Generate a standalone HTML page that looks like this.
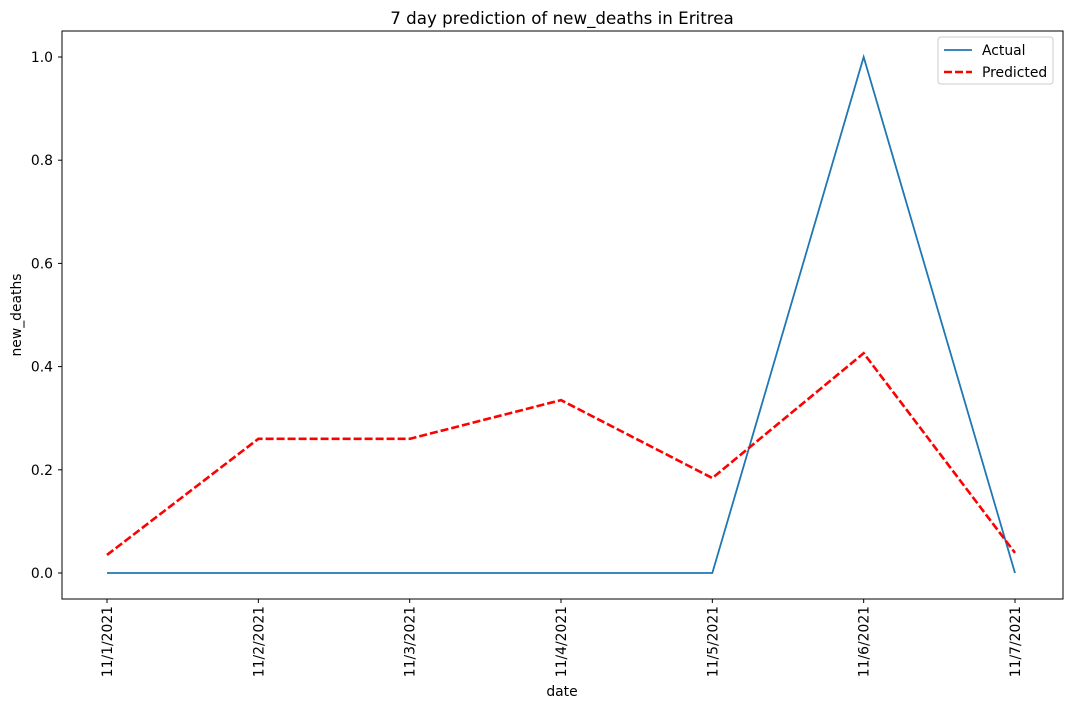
<!DOCTYPE html>
<html><head><meta charset="utf-8"><style>
body{margin:0;background:#fff;}
svg{display:block;font-family:"DejaVu Sans","Liberation Sans",sans-serif;}
</style></head><body>
<svg id="chart" width="1070" height="709" viewBox="0 0 1070 709">
<rect width="1070" height="709" fill="#fff"/>
<text x="562" y="24" text-anchor="middle" font-size="16.7">7 day prediction of new_deaths in Eritrea</text>
<g id="axes"></g>
<g id="series"></g>
<rect x="62" y="31" width="1001" height="568" fill="none" stroke="#000" stroke-width="1"/>
<text x="562" y="696" text-anchor="middle" font-size="13.9">date</text>
<text transform="translate(21,315) rotate(-90)" text-anchor="middle" font-size="13.9">new_deaths</text>
<g>
<rect x="938" y="37" width="115" height="47" rx="3" fill="#fff" stroke="#ccc"/>
<line x1="944" y1="50" x2="972" y2="50" stroke="#1f77b4" stroke-width="1.8"/>
<text x="982" y="55" font-size="13.9">Actual</text>
<line x1="944" y1="72" x2="972" y2="72" stroke="#ff0000" stroke-width="2.6" stroke-dasharray="8,3"/>
<text x="982" y="77" font-size="13.9">Predicted</text>
</g>
</svg>
<script>
const categories = ["11/1/2021","11/2/2021","11/3/2021","11/4/2021","11/5/2021","11/6/2021","11/7/2021"];
const actual = [0,0,0,0,0,1,0];
const predicted = [0.035,0.26,0.26,0.335,0.184,0.426,0.039];
const yTicks = [0.0,0.2,0.4,0.6,0.8,1.0];
const yTickLabels = ["0.0","0.2","0.4","0.6","0.8","1.0"];

const NS="http://www.w3.org/2000/svg";
const x0=107, x1=1015, yZero=573, yOne=57;
function xScale(i){return x0+(x1-x0)*i/(categories.length-1);}
function yScale(v){return yZero+(yOne-yZero)*v;}
function mk(t,a,p){const e=document.createElementNS(NS,t);for(const k in a)e.setAttribute(k,a[k]);p.appendChild(e);return e;}
const axes=document.getElementById('axes'), series=document.getElementById('series');
yTicks.forEach((v,i)=>{
  const y=yScale(v);
  const t=mk('line',{x1:58,x2:62,y1:y,y2:y,stroke:'#000'},axes);
  
  
  const l=mk('text',{x:53,y:y+5,'text-anchor':'end','font-size':13.9},axes);
  l.textContent=yTickLabels[i];
  
  
});
categories.forEach((c,i)=>{
  const x=xScale(i);
  const t=mk('line',{x1:x,x2:x,y1:599,y2:603,stroke:'#000'},axes);
  
  
  const l=mk('text',{transform:`translate(${x+5},606) rotate(-90)`,'text-anchor':'end','font-size':13.9},axes);
  l.textContent=c;
  
  
});
const pa=mk('polyline',{points:actual.map((v,i)=>xScale(i)+','+yScale(v)).join(' '),fill:'none',stroke:'#1f77b4','stroke-width':1.8},series);


const pp=mk('polyline',{points:predicted.map((v,i)=>xScale(i)+','+yScale(v)).join(' '),fill:'none',stroke:'#ff0000','stroke-width':2.6,'stroke-dasharray':'8,3'},series);


</script>
</body></html>
